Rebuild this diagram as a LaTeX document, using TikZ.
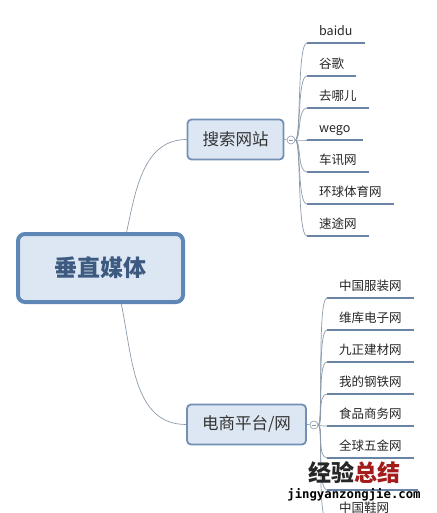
\documentclass[tikz,border=0pt]{standalone}
\usepackage{fontspec}
\setmainfont{Noto Sans CJK SC}
\newfontfamily\markfont{DejaVu Sans Mono}
\definecolor{boxfill}{HTML}{DDE7F3}
\definecolor{rootline}{HTML}{5F87B5}
\definecolor{branchline}{HTML}{7290B4}
\definecolor{leafline}{HTML}{6A84A6}
\definecolor{linkgray}{HTML}{8C9BAA}
\definecolor{roottext}{HTML}{3D5A80}
\definecolor{markred}{HTML}{A31B1B}
\begin{document}
\begin{tikzpicture}[x=1pt,y=-1pt,
    root/.style={rectangle,rounded corners=7pt,draw=rootline,line width=4pt,fill=boxfill,
        minimum width=165pt,minimum height=68pt,text=roottext,font=\fontsize{23}{26}\selectfont\bfseries},
    branch/.style={rectangle,rounded corners=4pt,draw=branchline,line width=1.8pt,fill=boxfill,
        minimum height=40pt,inner xsep=15pt,text=black!80,font=\fontsize{16.5}{19}\selectfont},
    fold/.style={circle,draw=linkgray,fill=white,line width=0.6pt,minimum size=8pt,inner sep=0pt},
    leaf/.style={anchor=south west,inner xsep=12pt,inner ysep=5pt,text height=10pt,text depth=2pt,
        text=black!85,font=\fontsize{12.5}{14}\selectfont},
    uline/.style={draw=leafline,line width=2.8pt},
    link/.style={draw=linkgray,line width=0.7pt}
]
\clip (0,0) rectangle (436,513);
\useasboundingbox (0,0) rectangle (436,513);

\node[root]   (R)  at (100.5,268)  {垂直媒体};
\node[branch] (S)  at (235.5,139.5) {搜索网站};
\node[branch] (E)  at (246.5,424.5) {电商平台/网};
\node[fold]   (Sf) at (291,140)    {};
\node[fold]   (Ef) at (314,425)    {};

% search sites
\node[leaf] (s1) at (307,43)  {baidu};
\node[leaf] (s2) at (307,76)  {谷歌};
\node[leaf] (s3) at (307,108) {去哪儿};
\node[leaf] (s4) at (307,140) {wego};
\node[leaf] (s5) at (307,172) {车讯网};
\node[leaf] (s6) at (307,204) {环球体育网};
\node[leaf] (s7) at (307,236) {速途网};

% e-commerce sites
\node[leaf] (e1) at (327,298) {中国服装网};
\node[leaf] (e2) at (327,330) {维库电子网};
\node[leaf] (e3) at (327,362) {九正建材网};
\node[leaf] (e4) at (327,394) {我的钢铁网};
\node[leaf] (e5) at (327,426) {食品商务网};
\node[leaf] (e6) at (327,458) {全球五金网};
\node[leaf,minimum width=91pt] (e7) at (327,490) {};
\node[leaf] (e8) at (327,520) {中国鞋网};

\draw[link] (R.54)  to[out=78,in=180]  (S.west);
\draw[link] (R.-60) to[out=-78,in=180] (E.west);
\draw[link] (S.east) -- (Sf);
\draw[link] (E.east) -- (Ef);

\foreach \n in {s1,s2,s3,s4,s5,s6,s7}{
    \draw[uline] (\n.south west) -- (\n.south east);
    \draw[link] (Sf.east) .. controls +(6,0) and +(-10,0) .. (\n.south west);
}
\foreach \n in {e1,e2,e3,e4,e5,e6,e7,e8}{
    \draw[uline] (\n.south west) -- (\n.south east);
    \draw[link] (Ef.east) .. controls +(5,0) and +(-10,0) .. (\n.south west);
}
\draw[linkgray,line width=0.7pt] ([xshift=-2.2pt]Sf.center) -- ([xshift=2.2pt]Sf.center);
\draw[linkgray,line width=0.7pt] ([xshift=-2.2pt]Ef.center) -- ([xshift=2.2pt]Ef.center);

% watermark
\node (wm) at (354,473) {\fontsize{23}{26}\selectfont\bfseries\textcolor{black!85}{经验}\textcolor{markred}{总结}};
\node (wu) at (354,495) {\markfont\fontsize{12.3}{14}\selectfont\bfseries jingyanzongjie.com};
\end{tikzpicture}
\end{document}
